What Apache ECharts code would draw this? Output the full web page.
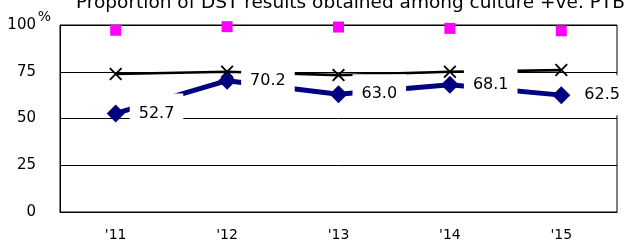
<!DOCTYPE html>
<html>
<head>
<meta charset="utf-8">
<script src="https://cdn.jsdelivr.net/npm/echarts@6/dist/echarts.min.js"></script>
<style>
  html, body { margin: 0; padding: 0; background: #fff; }
  #chart { width: 627px; height: 244px; }
</style>
</head>
<body>
<div id="chart"></div>
<script>
const years = ["'11", "'12", "'13", "'14", "'15"];
const dstShare = [52.7, 70.2, 63.0, 68.1, 62.5];
const crossSeries = [73.8, 75.0, 73.2, 75.0, 75.9];
const pinkSeries = [97.2, 99.1, 98.9, 98.2, 96.9];
const yTicks = [0, 25, 50, 75, 100];

const font = 'DejaVu Sans';
// thin filled X shape for the black markers
const crossPath = 'path://M0,1L1,0L5,4L9,0L10,1L6,5L10,9L9,10L5,6L1,10L0,9L4,5Z';

const chart = echarts.init(document.getElementById('chart'));

chart.setOption({
  animation: false,
  title: {
    text: 'Proportion of DST results obtained among culture +ve. PTB',
    left: 71,
    top: -11.5,
    textStyle: { fontFamily: font, fontSize: 18.5, fontWeight: 'normal', color: '#000' }
  },
  grid: {
    left: 60, right: 10, top: 25, bottom: 32,
    show: true, borderColor: '#000', borderWidth: 1
  },
  xAxis: {
    type: 'category',
    data: years,
    axisLine: { lineStyle: { color: '#000', width: 1 } },
    axisTick: { inside: true, length: 5, lineStyle: { color: '#000' } },
    axisLabel: { fontFamily: font, fontSize: 14, color: '#000', margin: 16 }
  },
  yAxis: {
    type: 'value',
    min: yTicks[0],
    max: yTicks[yTicks.length - 1],
    interval: 25,
    name: '%',
    nameLocation: 'end',
    nameGap: 8,
    nameMoveOverlap: false,
    nameTextStyle: {
      fontFamily: font, fontSize: 14, color: '#000',
      align: 'right', verticalAlign: 'middle', padding: [0, 9, 0, 0]
    },
    axisLine: { show: true, lineStyle: { color: '#000', width: 1 } },
    axisTick: { show: false },
    axisLabel: { fontFamily: font, fontSize: 15, color: '#000', margin: 24 },
    splitLine: { lineStyle: { color: '#000', width: 1 } }
  },
  series: [
    {
      name: 'pink',
      type: 'line',
      data: pinkSeries,
      symbol: 'rect',
      symbolSize: 11,
      itemStyle: { color: '#ff00ff' },
      lineStyle: { width: 0, opacity: 0 },
      z: 2
    },
    {
      name: 'cross',
      type: 'line',
      data: crossSeries,
      symbol: crossPath,
      symbolSize: 13,
      itemStyle: { color: '#000' },
      lineStyle: { color: '#000', width: 2.7 },
      z: 2
    },
    {
      name: 'DST',
      type: 'line',
      data: dstShare,
      symbol: 'diamond',
      symbolSize: 18,
      itemStyle: { color: '#000080' },
      lineStyle: { color: '#000080', width: 5 },
      label: {
        show: true,
        position: 'right',
        distance: 5,
        formatter: p => p.value.toFixed(1),
        fontFamily: font,
        fontSize: 16,
        color: '#000',
        backgroundColor: '#fff',
        padding: [12, 9]
      },
      z: 3
    }
  ]
});
</script>
</body>
</html>
